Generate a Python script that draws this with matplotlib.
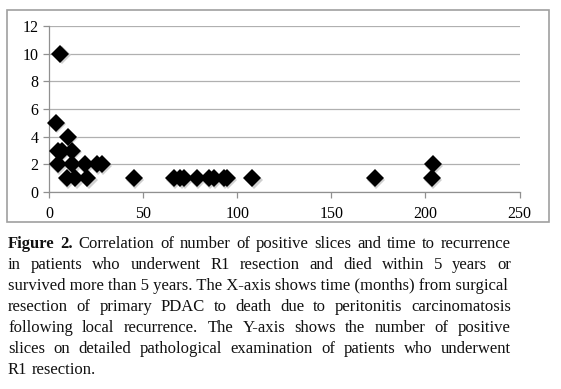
import matplotlib
matplotlib.use("Agg")
import matplotlib.pyplot as plt
from matplotlib.patches import Rectangle

months = [6, 3.5, 10, 5, 7, 12, 4.7, 12.4, 19, 25.6, 28,
          9.5, 14, 20.3, 45, 66.5, 69.8, 71.5, 78.7, 84.8, 87.6,
          92.8, 94.6, 108, 173, 203.4, 203.8]
slices = [10, 5, 4, 3, 3, 3, 2, 2, 2, 2, 2,
          1, 1, 1, 1, 1, 1, 1, 1, 1, 1,
          1, 1, 1, 1, 1, 2]
xticks = [0, 50, 100, 150, 200, 250]
yticks = [0, 2, 4, 6, 8, 10, 12]

caption_lines = [
    "Correlation of number of positive slices and time to recurrence",
    "in patients who underwent R1 resection and died within 5 years or",
    "survived more than 5 years. The X-axis shows time (months) from surgical",
    "resection of primary PDAC to death due to peritonitis carcinomatosis",
    "following local recurrence. The Y-axis shows the number of positive",
    "slices on detailed pathological examination of patients who underwent",
    "R1 resection.",
]

W, H = 561, 389
fig = plt.figure(figsize=(W / 100, H / 100), dpi=100)
fig.patch.set_facecolor("white")

fig.add_artist(Rectangle((7 / W, 1 - 222 / H), (549 - 7) / W, (222 - 10) / H,
                         transform=fig.transFigure, fill=False,
                         edgecolor="#a0a0a0", linewidth=1.2))

ax = fig.add_axes([49 / W, 1 - 192 / H, 470.5 / W, 166 / H])
ax.set_xlim(0, 250)
ax.set_ylim(0, 12)
ax.set_xticks(xticks)
ax.set_yticks(yticks)
ax.grid(axis="y", color="#b0b0b0", linewidth=0.9)
ax.set_axisbelow(True)
for s in ["top", "right"]:
    ax.spines[s].set_visible(False)
for s in ["left", "bottom"]:
    ax.spines[s].set_color("#909090")
    ax.spines[s].set_linewidth(0.9)
ax.tick_params(axis="both", colors="#909090", length=4, width=0.9,
               labelcolor="black", labelsize=11.5)
ax.tick_params(axis="x", pad=6)
for lab in ax.get_xticklabels() + ax.get_yticklabels():
    lab.set_family("Liberation Serif")

ax.plot([m + 0.7 for m in months], [s - 0.1 for s in slices], "D", color="#d0d0d0",
        markersize=9.5, markeredgewidth=0, clip_on=False, zorder=2)
ax.plot(months, slices, "D", color="black", markersize=9.5, markeredgewidth=0,
        clip_on=False, zorder=3)

# justified caption
fam = "Liberation Serif"
fig.canvas.draw()
r = fig.canvas.get_renderer()
left_px, right_px = 8, 511
y0 = 248.5
lh = 20.9

def text_w(t, fs, weight="normal"):
    tt = fig.text(0, 0, t, fontsize=fs, family=fam, weight=weight)
    bb = tt.get_window_extent(renderer=r)
    tt.remove()
    return bb.width

def line_items(i):
    items = [(w, "normal") for w in caption_lines[i].split(" ")]
    if i == 0:
        items = [("Figure", "bold"), ("2.", "bold")] + items
    return items

base = 10.0
sp_base = text_w("a a", base) - text_w("aa", base)
need = 0
for i in range(len(caption_lines) - 1):
    it = line_items(i)
    wsum = sum(text_w(w, base, wt) for w, wt in it) + (len(it) - 1) * sp_base
    need = max(need, wsum)
fs = base * (right_px - left_px) / need * 0.995

space = text_w("a a", fs) - text_w("aa", fs)
for i in range(len(caption_lines)):
    y = H - (y0 + i * lh)
    if "(" in caption_lines[i]:
        # densest line: draw as one string (keeps baseline consistent)
        fig.text(left_px / W, y / H, caption_lines[i], fontsize=fs, family=fam,
                 va="baseline", ha="left", color="#111111")
        continue
    items = line_items(i)
    widths = [text_w(w, fs, wt) for w, wt in items]
    total = sum(widths)
    if i == len(caption_lines) - 1:
        gap = space
    else:
        gap = (right_px - left_px - total) / (len(items) - 1)
    x = left_px
    for (w, wt), wd in zip(items, widths):
        fig.text(x / W, y / H, w, fontsize=fs, family=fam, weight=wt,
                 va="baseline", ha="left", color="#111111")
        x += wd + gap

fig.savefig("out.png", dpi=100, facecolor="white")
